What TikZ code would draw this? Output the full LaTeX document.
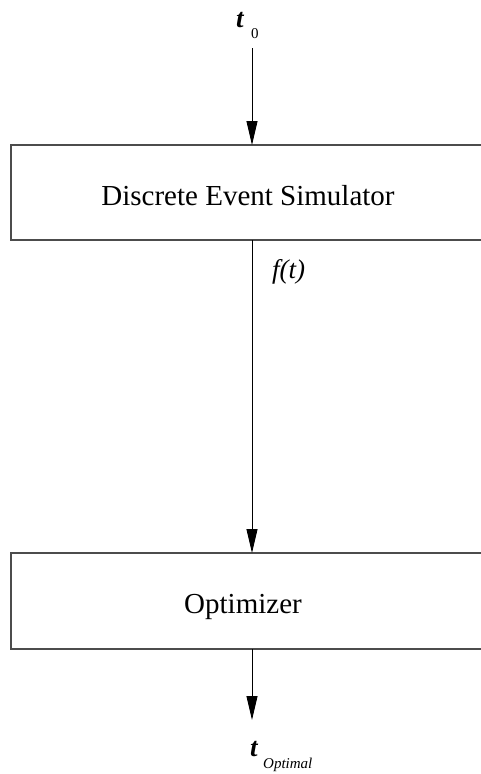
\documentclass[tikz,border=0pt]{standalone}
\usepackage{fontspec}
\setmainfont{Liberation Serif}
\usetikzlibrary{arrows.meta}
\begin{document}
\begin{tikzpicture}[x=1pt,y=-1pt,
  blockbox/.style={draw=black!70,line width=1.6pt,fill=white},
  flow/.style={draw=black,line width=1pt,-{Triangle[length=24pt,width=11pt]}},
  bigtext/.style={font=\fontsize{29}{32}\selectfont,inner sep=0pt,anchor=base},
  vartext/.style={font=\fontsize{27}{30}\selectfont\itshape,inner sep=0pt},
  tvar/.style={font=\fontsize{27}{30}\selectfont\bfseries\itshape,inner sep=0pt,anchor=base west},
  subtext/.style={font=\fontsize{15}{17}\selectfont\itshape,inner sep=0pt,anchor=base west}
]
\useasboundingbox (0,0) rectangle (481,774);
\clip (0,0) rectangle (481,774);

% blocks (they run past the right edge)
\draw[blockbox] (11,145) rectangle (495,240);
\draw[blockbox] (11,553) rectangle (495,649);
\node[bigtext] (sim) at (248,205) {Discrete Event Simulator};
\node[bigtext] (opt) at (243,613) {Optimizer};
\coordinate (simtop) at (252,145);
\coordinate (simbot) at (252,240);
\coordinate (opttop) at (252,553);
\coordinate (optbot) at (252,649);

% input, output and the link between the blocks
\coordinate (start) at (252,48);
\coordinate (finish) at (252,720);
\draw[flow] (start) -- (simtop);
\draw[flow] (simbot) -- (opttop);
\draw[flow] (optbot) -- (finish);

% labels
\node[tvar] (tzero) at (236,27) {t};
\node[subtext,font=\fontsize{15}{17}\selectfont] (zero) at (251,38) {0};
\node[vartext,anchor=base west] (ft) at (272,278) {f(t)};
\node[tvar] (topt) at (250,756) {t};
\node[subtext] (optlab) at (263,768) {Optimal};
\end{tikzpicture}
\end{document}
